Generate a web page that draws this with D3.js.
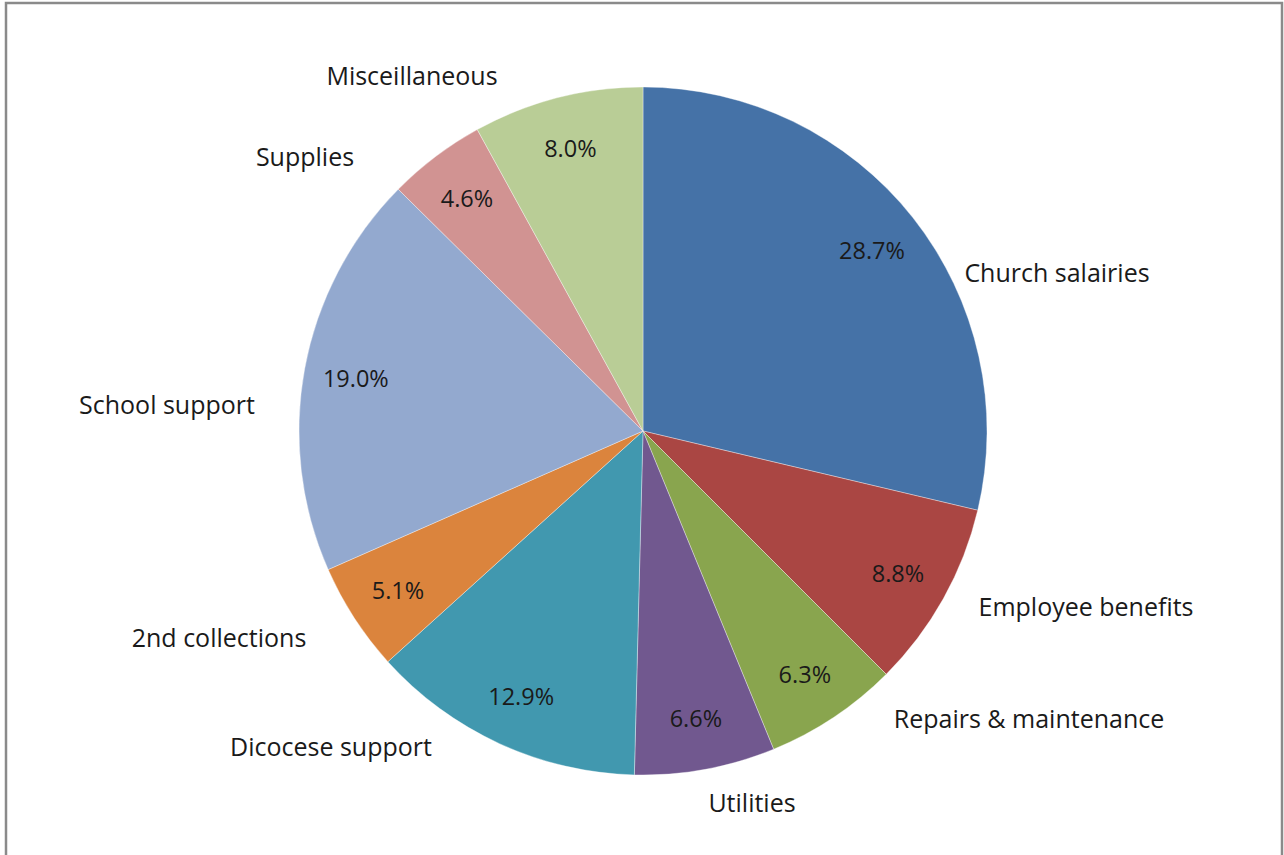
<!DOCTYPE html>
<html>
<head>
<meta charset="utf-8">
<script src="https://cdn.jsdelivr.net/npm/d3@7"></script>
<style>
  html, body { margin: 0; padding: 0; background: #fff; }
  svg { display: block; }
  text { font-family: "Open Sans", "Noto Sans", sans-serif; fill: #1a1a1a; }
</style>
</head>
<body>
<svg id="chart" width="1284" height="855"></svg>
<script>
// ---- data ----
const categories = ["Church salairies", "Employee benefits", "Repairs & maintenance", "Utilities",
  "Dicocese support", "2nd collections", "School support", "Supplies", "Misceillaneous"];
const percents = [28.7, 8.8, 6.3, 6.6, 12.9, 5.1, 19.0, 4.6, 8.0];
const colors = ["#4572A7", "#AA4643", "#89A54E", "#71588F", "#4198AF", "#DB843D", "#93A9CF", "#D19392", "#B9CD96"];

// ---- layout ----
const W = 1284, H = 855;
const cx = 643, cy = 431, R = 344;
const innerLabelR = 292;
// outer category label centres, relative to pie centre
const outerLabelPos = [[414, -159], [443, 175], [386, 287], [109, 371], [-312, 315],
  [-424, 206], [-476, -27], [-338, -275], [-231, -356]];

const svg = d3.select("#chart");

// frame
svg.append("rect").attr("x", 6).attr("y", 3).attr("width", 1276).attr("height", 860)
  .attr("fill", "none").attr("stroke", "#8a8a8a").attr("stroke-width", 2.5);

const data = categories.map((c, i) => ({ name: c, value: percents[i], color: colors[i] }));
const pie = d3.pie().value(d => d.value).sort(null);
const arcs = pie(data);
const arc = d3.arc().innerRadius(0).outerRadius(R);
const labelArc = d3.arc().innerRadius(innerLabelR).outerRadius(innerLabelR);

const g = svg.append("g").attr("transform", `translate(${cx},${cy})`);

g.selectAll("path.slice").data(arcs).join("path")
  .attr("class", "slice")
  .attr("d", arc)
  .attr("fill", d => d.data.color)
  .attr("stroke", "#ffffff")
  .attr("stroke-width", 0.6)
  .attr("stroke-opacity", 0.6);

g.selectAll("text.pct").data(arcs).join("text")
  .attr("class", "pct")
  .attr("transform", d => `translate(${labelArc.centroid(d)})`)
  .attr("text-anchor", "middle")
  .attr("dominant-baseline", "central")
  .style("font-size", "23.5px")
  .text(d => d3.format(".1f")(d.data.value) + "%");

g.selectAll("text.cat").data(arcs).join("text")
  .attr("class", "cat")
  .attr("x", (d, i) => outerLabelPos[i][0])
  .attr("y", (d, i) => outerLabelPos[i][1])
  .attr("text-anchor", "middle")
  .attr("dominant-baseline", "central")
  .style("font-size", "25px")
  .text(d => d.data.name);
</script>
</body>
</html>
